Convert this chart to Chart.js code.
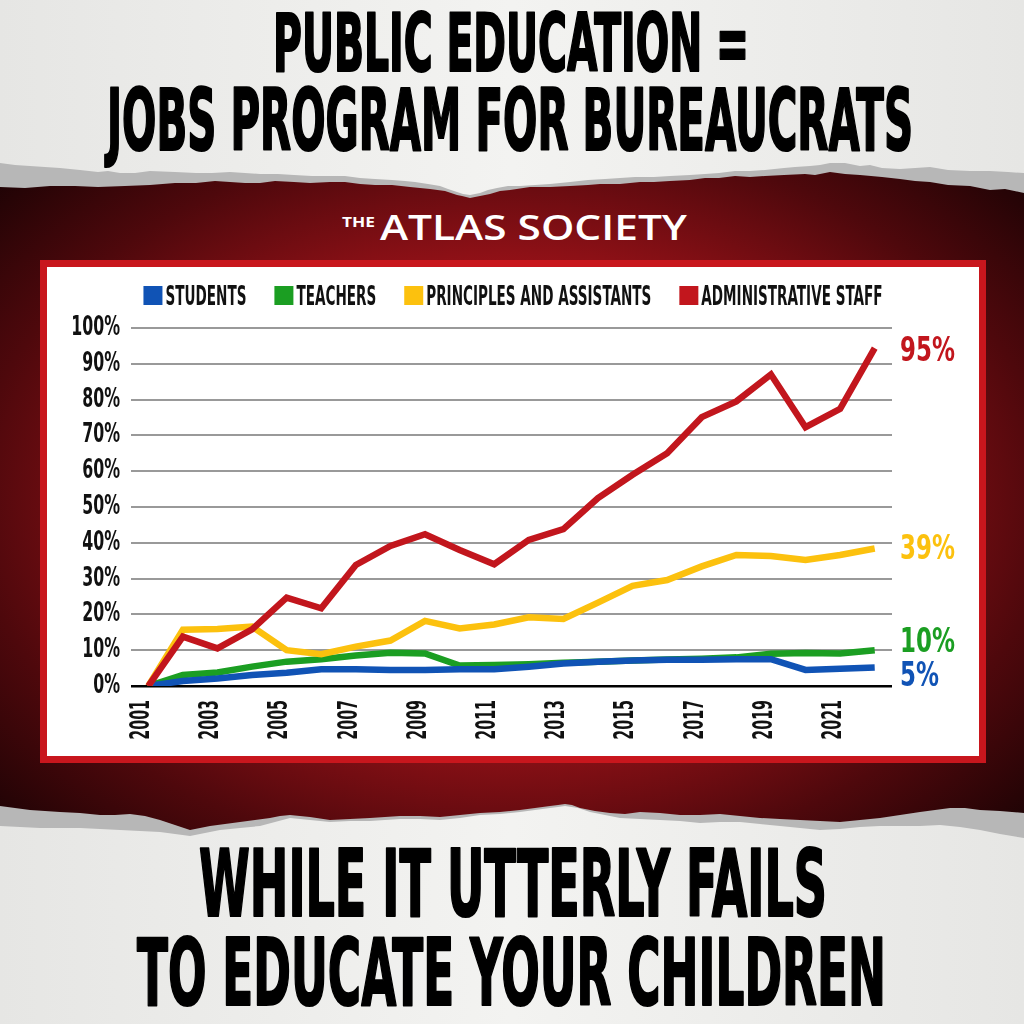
<!DOCTYPE html>
<html>
<head>
<meta charset="utf-8">
<title>Public Education = Jobs Program for Bureaucrats</title>
<script src="https://cdn.jsdelivr.net/npm/chart.js@4.4.1/dist/chart.umd.min.js"></script>
<style>
  html, body { margin: 0; padding: 0; background: #efefed; }
  #page { position: relative; width: 1024px; height: 1024px; overflow: hidden; }
  #bg { position: absolute; left: 0; top: 0; }
  #box { position: absolute; left: 40px; top: 260px; width: 932px; height: 489px;
         border: 7px solid #c8161d; background: #fff; }
  #box canvas { display: block; }
</style>
</head>
<body>
<div id="page">
  <svg id="bg" width="1024" height="1024" viewBox="0 0 1024 1024">
    <defs>
      <radialGradient id="redGlow" cx="50%" cy="50%" r="75%">
        <stop offset="0" stop-color="#a8141b"/>
        <stop offset="0.45" stop-color="#921117"/>
        <stop offset="0.7" stop-color="#4e080c"/>
        <stop offset="0.95" stop-color="#140203"/>
      </radialGradient>
      <linearGradient id="paper" x1="0" y1="0" x2="1" y2="0">
        <stop offset="0" stop-color="#e6e6e4"/>
        <stop offset="0.5" stop-color="#f3f3f1"/>
        <stop offset="1" stop-color="#e6e6e4"/>
      </linearGradient>
    </defs>
    <rect x="0" y="0" width="1024" height="1024" fill="url(#paper)"/>
    <rect x="0" y="150" width="1024" height="700" fill="url(#redGlow)"/>

    <!-- torn paper, top -->
    <polygon fill="#b7b7b7" points="0,0 1024,0 1024,193 1005,189 990,190 970,186 948,185 930,182 915,181 900,179 882,177 860,175 845,174 830,172 815,175 805,174 784,175 765,176 750,177 735,176 719,178 705,178 690,180 670,181 654,182 640,182 620,184 600,184 588,185 570,186 550,187 530,187 510,190 500,191 490,194 480,196 470,198 462,196 457,195 445,191 430,189 410,187 392,185 375,185 360,184 345,182 330,182 310,183 294,182 275,181 260,183 245,183 230,182 215,181 196,183 175,183 150,185 125,186 98,187 75,186 50,186 25,188 0,187"/>
    <polygon fill="url(#paper)" points="0,0 1024,0 1024,173 1008,172 990,171 970,171 948,170 930,167 915,168 900,169 882,168 870,165 860,166 845,163 830,163 820,165 810,166 795,167 784,168 765,170 750,171 735,171 719,173 705,174 690,175 670,176 654,177 635,177 620,178 605,179 588,180 570,182 550,184 535,185 520,186 508,186 497,188 488,190 480,193 470,195 463,194 457,192 448,189 440,186 428,184 415,182 405,181 392,180 375,179 360,178 345,176 330,176 312,176 294,175 278,174 260,174 245,173 230,172 212,173 196,173 175,172 150,171 135,173 120,173 108,171 98,172 80,170 60,168 45,167 30,166 15,165 0,163"/>

    <!-- torn paper, bottom -->
    <polygon fill="#b7b7b7" points="0,1024 1024,1024 1024,813 1000,811 980,810 965,808 950,808 935,810 920,812 900,815 880,818 860,820 840,822 820,821 800,820 780,819 760,818 740,816 720,814 700,815 680,815 660,813 640,812 625,814 610,813 595,811 580,808 572,805 565,804 558,805 550,806 535,808 520,810 500,812 480,813 460,815 440,817 420,816 400,816 385,817 370,818 350,819 330,820 310,817 290,815 280,816 270,818 255,820 240,822 225,824 210,826 200,828 190,830 178,826 160,820 145,816 130,814 115,815 100,815 80,813 60,812 45,811 30,810 15,808 0,806"/>
    <polygon fill="url(#paper)" points="0,1024 1024,1024 1024,838 1000,834 980,830 960,827 940,825 920,826 900,826 880,826 860,827 840,829 820,830 800,828 780,826 760,824 740,822 720,822 700,823 680,821 660,820 640,819 620,818 605,815 590,812 578,808 565,806 558,807 550,808 535,810 520,812 500,814 480,815 460,818 440,820 420,819 400,819 385,820 370,821 350,821 330,822 310,820 290,818 275,822 260,826 240,828 220,830 205,833 190,836 175,834 160,832 140,831 120,830 100,829 80,828 60,828 40,828 20,827 0,826"/>

    <!-- headline -->
    <g font-family="'Liberation Sans Narrow', 'DejaVu Sans Condensed', sans-serif" font-weight="700" fill="#000" stroke="#000" stroke-width="2.2" stroke-linejoin="round">
      <text x="273" y="71" font-size="80" textLength="476" lengthAdjust="spacingAndGlyphs">PUBLIC EDUCATION =</text>
      <text x="107" y="150" font-size="85" textLength="806" lengthAdjust="spacingAndGlyphs">JOBS PROGRAM FOR BUREAUCRATS</text>
      <text x="199" y="916" font-size="92" textLength="628" lengthAdjust="spacingAndGlyphs">WHILE IT UTTERLY FAILS</text>
      <text x="137" y="1005" font-size="92" textLength="749" lengthAdjust="spacingAndGlyphs">TO EDUCATE YOUR CHILDREN</text>
    </g>

    <!-- logo -->
    <g font-family="'Open Sans', sans-serif" fill="#fff">
      <text x="342" y="227" font-size="14" font-weight="700" textLength="33" lengthAdjust="spacingAndGlyphs">THE</text>
      <text x="380" y="240" font-size="35" font-weight="600" textLength="307" lengthAdjust="spacingAndGlyphs">ATLAS SOCIETY</text>
    </g>
  </svg>

  <div id="box"><canvas id="chart" width="932" height="489"></canvas></div>
</div>

<script>
// x categories
const years = ['2001', '2002', '2003', '2004', '2005', '2006', '2007', '2008', '2009', '2010', '2011',
               '2012', '2013', '2014', '2015', '2016', '2017', '2018', '2019', '2020', '2021', '2022'];

// growth since 2001, percent
const students   = [0, 1.4, 2.1, 3.1, 3.7, 4.7, 4.7, 4.5, 4.5, 4.7, 4.7, 5.4, 6.3, 6.8, 7.1, 7.3, 7.3, 7.5, 7.5, 4.5, 4.8, 5.2];
const teachers   = [0, 3.1, 3.8, 5.4, 6.8, 7.5, 8.5, 9.3, 9.1, 5.7, 5.9, 6.1, 6.5, 6.8, 7.1, 7.4, 7.6, 8.0, 9.0, 9.2, 9.1, 10];
const principals = [0, 15.7, 15.9, 16.6, 10, 8.9, 11, 12.7, 18.2, 16.1, 17.2, 19.2, 18.7, 23.3, 28, 29.6, 33.4, 36.6, 36.3, 35.2, 36.6, 38.4];
const adminStaff = [0, 13.8, 10.5, 15.8, 24.7, 21.7, 33.8, 39.1, 42.4, 38, 34, 40.8, 43.8, 52.5, 59, 65, 75.1, 79.5, 87, 72.3, 77.4, 94.4];

const seriesNames = ['STUDENTS', 'TEACHERS', 'PRINCIPLES AND ASSISTANTS', 'ADMINISTRATIVE STAFF'];
const seriesColors = ['#1053b5', '#1b9e22', '#fcc10e', '#c2161d'];
const endLabels = ['5%', '10%', '39%', '95%'];
const yTicks = [0, 10, 20, 30, 40, 50, 60, 70, 80, 90, 100];

const NARROW = "'Liberation Sans Narrow', 'DejaVu Sans Condensed', sans-serif";

// draws text squeezed horizontally (the poster uses a very narrow face)
function squeezed(ctx, text, x, y, sx, angle) {
    ctx.save();
    ctx.translate(x, y);
    if (angle) ctx.rotate(angle);
    ctx.scale(sx, 1);
    ctx.fillText(text, 0, 0);
    ctx.restore();
}

// legend row across the top of the white box
const legendRow = {
    id: 'legendRow',
    afterDraw(chart) {
        const ctx = chart.ctx;
        const sx = 0.58, box = 19, gap = 28;
        ctx.save();
        ctx.font = 'bold 26px ' + NARROW;
        ctx.fillStyle = '#111';
        const widths = seriesNames.map(n => box + 3 + ctx.measureText(n).width * sx);
        const total = widths.reduce((a, b) => a + b, 0) + gap * (seriesNames.length - 1);
        let x = (chart.width - total) / 2;
        seriesNames.forEach((n, i) => {
            ctx.fillStyle = seriesColors[i];
            ctx.fillRect(x, 19, box, box);
            ctx.fillStyle = '#111';
            squeezed(ctx, n, x + box + 3, 38, sx);
            x += widths[i] + gap;
        });
        ctx.restore();
    }
};

// tick labels, placed with the scales
const tickLabels = {
    id: 'tickLabels',
    afterDraw(chart) {
        const ctx = chart.ctx;
        const area = chart.chartArea;
        const ys = chart.scales.y, xs = chart.scales.x;
        ctx.save();
        ctx.fillStyle = '#111';
        ctx.font = 'bold 27px ' + NARROW;
        ctx.textAlign = 'right';
        ctx.textBaseline = 'middle';
        ys.ticks.forEach((t, i) => {
            squeezed(ctx, t.value + '%', area.left - 11, ys.getPixelForTick(i), 0.65);
        });
        ctx.font = 'bold 26px ' + NARROW;
        years.forEach((yr, i) => {
            if (i % 2) return;
            squeezed(ctx, yr, xs.getPixelForTick(i) - 6, area.bottom + 14, 0.61, -Math.PI / 2);
        });
        ctx.restore();
    }
};

// value labels at the right end of each line
const labelNudge = [10, -7, 2, 4];
const endValueLabels = {
    id: 'endValueLabels',
    afterDatasetsDraw(chart) {
        const ctx = chart.ctx;
        const area = chart.chartArea;
        ctx.save();
        ctx.font = 'bold 34px ' + NARROW;
        ctx.textBaseline = 'middle';
        chart.data.datasets.forEach((ds, i) => {
            const pts = chart.getDatasetMeta(i).data;
            const last = pts[pts.length - 1];
            ctx.fillStyle = seriesColors[i];
            squeezed(ctx, endLabels[i], area.right + 8, last.y + labelNudge[i], 0.75);
        });
        ctx.restore();
    }
};

function lineSet(label, data, color, order) {
    return {
        label, data, order,
        borderColor: color,
        backgroundColor: color,
        borderWidth: 6.5,
        borderJoinStyle: 'miter',
        pointRadius: 0,
        tension: 0,
        fill: false
    };
}

window.addEventListener('DOMContentLoaded', () => {
    const ctx = document.getElementById('chart').getContext('2d');
    new Chart(ctx, {
        type: 'line',
        data: {
            labels: years,
            datasets: [
                lineSet(seriesNames[0], students, seriesColors[0], 3),
                lineSet(seriesNames[1], teachers, seriesColors[1], 4),
                lineSet(seriesNames[2], principals, seriesColors[2], 2),
                lineSet(seriesNames[3], adminStaff, seriesColors[3], 1)
            ]
        },
        options: {
            responsive: false,
            animation: false,
            layout: { padding: { top: 61, right: 87, bottom: 0, left: 0 } },
            plugins: { legend: { display: false }, tooltip: { enabled: false } },
            scales: {
                x: {
                    offset: true,
                    grid: { display: false, drawTicks: false },
                    border: { display: false },
                    afterFit(scale) { scale.height = 70; },
                    ticks: { display: false, autoSkip: false }
                },
                y: {
                    min: 0, max: 100,
                    afterFit(scale) { scale.width = 84; },
                    afterBuildTicks(scale) { scale.ticks = yTicks.map(v => ({ value: v })); },
                    border: { display: false },
                    grid: {
                        drawTicks: false,
                        lineWidth: c => (c.tick && c.tick.value === 0 ? 2.5 : 2),
                        color: c => (c.tick && c.tick.value === 0 ? '#000' : '#999')
                    },
                    ticks: { display: false }
                }
            }
        },
        plugins: [legendRow, tickLabels, endValueLabels]
    });
});
</script>
</body>
</html>
